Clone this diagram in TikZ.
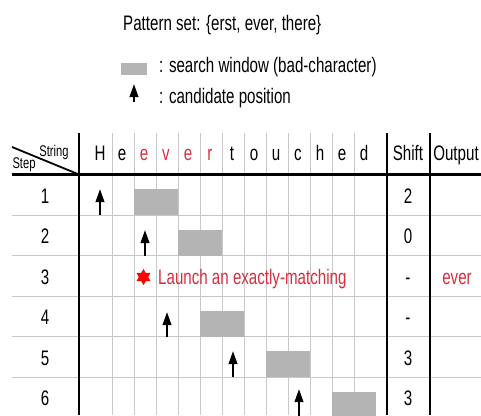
\documentclass[tikz,border=0pt]{standalone}
\usepackage{fontspec}
\setmainfont{Liberation Sans}[FakeStretch=0.72]
\usetikzlibrary{arrows.meta,shapes.geometric}
\definecolor{winbox}{RGB}{180,180,180}
\definecolor{gridc}{RGB}{200,200,200}
\definecolor{hl}{RGB}{215,45,60}
\begin{document}
\begin{tikzpicture}[x=1pt,y=-1pt,
  txt/.style={font=\fontsize{21}{24}\selectfont, inner sep=0, anchor=base},
  smalltxt/.style={font=\fontsize{15.5}{18}\selectfont, inner sep=0, anchor=base},
  rule/.style={line width=2.2pt},
  gridline/.style={gridc, line width=0.8pt},
  win/.style={fill=winbox, draw=none},
  cand/.style={line width=2.2pt, -{Triangle[length=13pt,width=8.5pt]}},
]
\useasboundingbox (0,0) rectangle (481,415);
\clip (0,0) rectangle (481,415);

% legend
\node[txt, anchor=base west] (title) at (123,30) {Pattern set: \{erst, ever, there\}};
\fill[win] (121,63) rectangle (147,75);
\node[txt, anchor=base west] (legwin) at (159,72) {: search window (bad-character)};
\coordinate (la0) at (134,102);
\coordinate (la1) at (134,84);
\draw[cand] (la0) -- (la1);
\node[txt, anchor=base west] (legcand) at (159,103) {: candidate position};

% thin grid
\foreach \j in {0,...,11} \draw[gridline] (112+22*\j,133) -- (112+22*\j,415);
\foreach \y in {215,255.5,296,336.5,377} \draw[gridline] (12,\y) -- (481,\y);

% search windows
\fill[win] (134,189) rectangle (178,215);
\fill[win] (178,229.5) rectangle (222,255.5);
\fill[win] (200,310.5) rectangle (244,336.5);
\fill[win] (266,351) rectangle (310,377);
\fill[win] (332,391.5) rectangle (376,420);

% thick rules
\draw[rule] (79,133) -- (79,415);
\draw[rule] (387,133) -- (387,415);
\draw[rule] (430,133) -- (430,415);
\draw[rule] (12,174.5) -- (481,174.5);
\draw[line width=1.8pt] (12,147) -- (79,174.5);

% header
\node[smalltxt] (hstring) at (54,156) {String};
\node[smalltxt] (hstep) at (24,168) {Step};
\foreach \c/\col [count=\k from 0] in {H/black,e/black,e/hl,v/hl,e/hl,r/hl,t/black,o/black,u/black,c/black,h/black,e/black,d/black}
  \node[txt, text=\col] (ch\k) at (100+22*\k,160) {\c};
\node[txt] (hshift) at (408,160) {Shift};
\node[txt] (hout) at (456,160) {Output};

% step numbers and shifts
\foreach \s/\sh/\yb in {1/2/203, 2/0/243.5, 3/-/284, 4/-/324.5, 5/3/365, 6/3/405.5} {
  \node[txt] (step\s) at (45,\yb) {\s};
  \node[txt] (shift\s) at (408,\yb) {\sh};
}
\node[txt, text=hl] (out3) at (457,284) {ever};

% candidate arrows
\coordinate (a1b) at (100,215);   \coordinate (a1t) at (100,189);
\coordinate (a2b) at (145,255.5); \coordinate (a2t) at (145,230);
\coordinate (a4b) at (167,336.5); \coordinate (a4t) at (167,312);
\coordinate (a5b) at (233,377);   \coordinate (a5t) at (233,351);
\coordinate (a6b) at (299,418);   \coordinate (a6t) at (299,389);
\draw[cand] (a1b) -- (a1t);
\draw[cand] (a2b) -- (a2t);
\draw[cand] (a4b) -- (a4t);
\draw[cand] (a5b) -- (a5t);
\draw[cand] (a6b) -- (a6t);

% row 3 launch
\node[star, star points=6, star point ratio=1.7, fill=red, minimum size=16pt, inner sep=0] (star) at (143.5,277) {};
\node[txt, anchor=base west, text=hl] (launch) at (158,284) {Launch an exactly-matching};
\end{tikzpicture}
\end{document}
